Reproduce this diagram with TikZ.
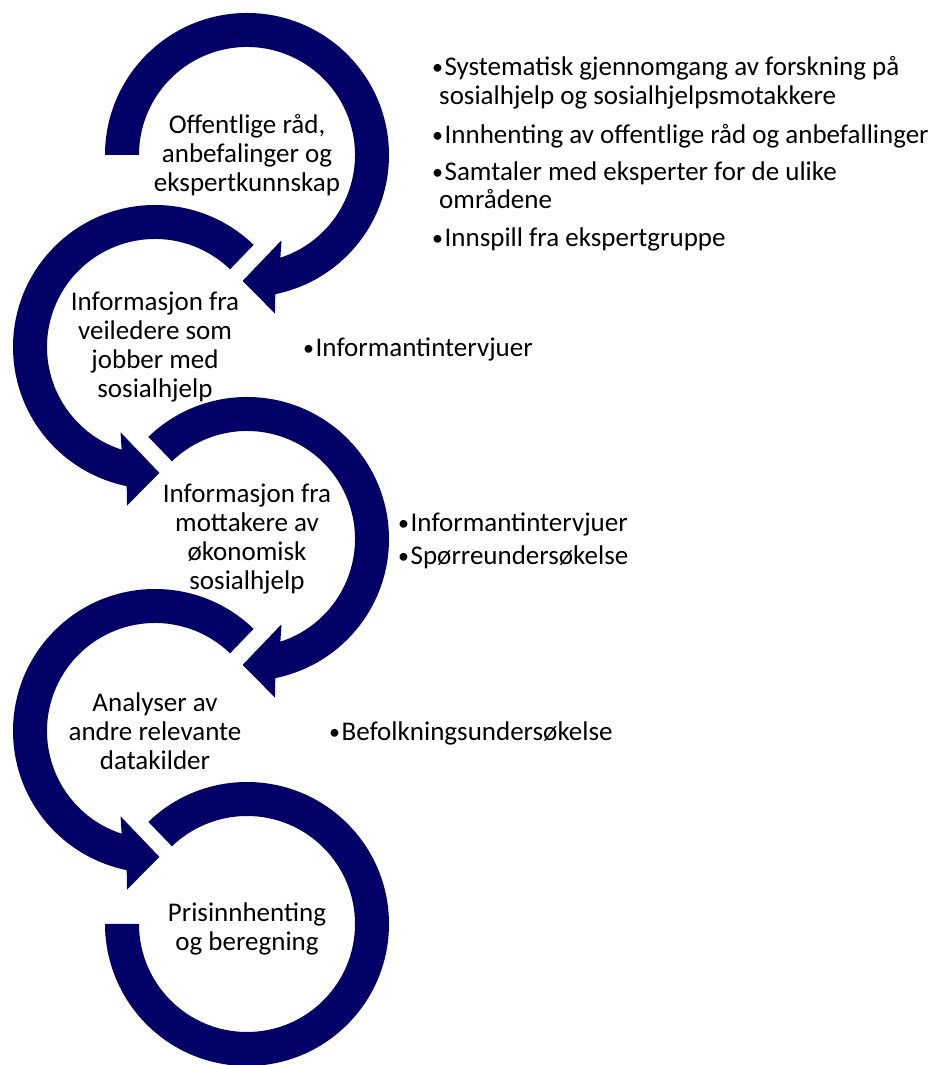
\documentclass[tikz,border=0pt]{standalone}
\usepackage{fontspec}
\setmainfont{Carlito}
\definecolor{navy}{RGB}{0,0,102}
\newcommand{\itembullet}{\raisebox{1.5pt}{\fontsize{22}{29}\selectfont •}\kern1.5pt}
\begin{document}
\begin{tikzpicture}[x=1pt,y=1pt,
		ring/.style={fill=navy},
		steptext/.style={align=center,inner sep=0pt,font=\fontsize{27}{29}\selectfont},
		itemtext/.style={anchor=base west,inner sep=0pt,font=\fontsize{27}{29}\selectfont}]
		\useasboundingbox (0,0) rectangle (929,1065);

		\coordinate (c1) at (247,910);
		\coordinate (c2) at (155,718);
		\coordinate (c3) at (247,526);
		\coordinate (c4) at (155,334);
		\coordinate (c5) at (247,141);

		\fill[ring,shift={(c1)}] (180:142) arc[start angle=180,end angle=-78.5,radius=142] -- (-80:161) -- (-92:126) -- (-68:92) -- (-72:108) arc[start angle=-72,end angle=180,radius=108] -- cycle;
		\fill[ring,shift={(c2)}] (46:142) arc[start angle=46,end angle=258.5,radius=142] -- (260:161) -- (272:126) -- (248:92) -- (252:108) arc[start angle=252,end angle=46,radius=108] -- cycle;
		\fill[ring,shift={(c3)}] (134:142) arc[start angle=134,end angle=-78.5,radius=142] -- (-80:161) -- (-92:126) -- (-68:92) -- (-72:108) arc[start angle=-72,end angle=134,radius=108] -- cycle;
		\fill[ring,shift={(c4)}] (46:142) arc[start angle=46,end angle=258.5,radius=142] -- (260:161) -- (272:126) -- (248:92) -- (252:108) arc[start angle=252,end angle=46,radius=108] -- cycle;
		\fill[ring,shift={(c5)}] (134:142) arc[start angle=134,end angle=-180,radius=142] -- (180:108) arc[start angle=-180,end angle=134,radius=108] -- cycle;

		\draw (c1) node (t1)[steptext]{Offentlige råd,\\anbefalinger og\\ekspertkunnskap};
		\draw (c2) node (t2)[steptext]{Informasjon fra\\veiledere som\\jobber med\\sosialhjelp};
		\draw (c3) node (t3)[steptext]{Informasjon fra\\mottakere av\\økonomisk\\sosialhjelp};
		\draw (c4) node (t4)[steptext]{Analyser av\\andre relevante\\datakilder};
		\draw (c5) ++(0,-5) node (t5)[steptext]{Prisinnhenting\\og beregning};

		\draw (c1) ++(185,79) node (l1a)[itemtext]{\itembullet Systematisk gjennomgang av forskning på};
		\draw (c1) ++(192,50) node (l1b)[itemtext]{sosialhjelp og sosialhjelpsmotakkere};
		\draw (c1) ++(185,11) node (l1c)[itemtext]{\itembullet Innhenting av offentlige råd og anbefallinger};
		\draw (c1) ++(185,-26) node (l1d)[itemtext]{\itembullet Samtaler med eksperter for de ulike};
		\draw (c1) ++(192,-54) node (l1e)[itemtext]{områdene};
		\draw (c1) ++(185,-92) node (l1f)[itemtext]{\itembullet Innspill fra ekspertgruppe};

		\draw (c2) ++(148,-10) node (l2a)[itemtext]{\itembullet Informantintervjuer};

		\draw (c3) ++(151,7) node (l3a)[itemtext]{\itembullet Informantintervjuer};
		\draw (c3) ++(151,-26) node (l3b)[itemtext]{\itembullet Spørreundersøkelse};

		\draw (c4) ++(174,-10) node (l4a)[itemtext]{\itembullet Befolkningsundersøkelse};
	\end{tikzpicture}
\end{document}
